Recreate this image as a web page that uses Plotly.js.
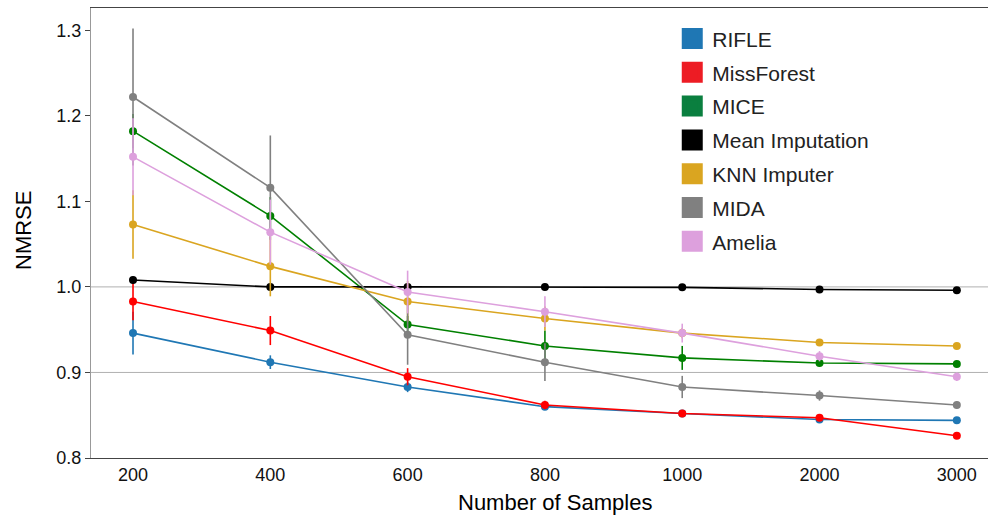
<!DOCTYPE html>
<html>
<head>
<meta charset="utf-8">
<script src="https://cdn.plot.ly/plotly-3.0.1.min.js"></script>
<style>html,body{margin:0;padding:0;background:#fff;}#chart{width:989px;height:519px;}</style>
</head>
<body>
<div id="chart"></div>
<script>
// Categories (equally spaced sample sizes)
const samples = ['200', '400', '600', '800', '1000', '2000', '3000'];

// Series values (NMRSE) and error-bar half-widths
const rifle        = [0.946, 0.912, 0.883, 0.860, 0.852, 0.845, 0.844];
const rifleErr     = [0.025, 0.008, 0.006, 0.004, 0.003, 0.003, 0.002];
const missForest   = [0.983, 0.949, 0.895, 0.862, 0.852, 0.847, 0.826];
const missForestErr= [0.022, 0.017, 0.010, 0.005, 0.003, 0.003, 0.002];
const mice         = [1.182, 1.083, 0.956, 0.931, 0.917, 0.911, 0.910];
const miceErr      = [0.020, 0.022, 0.010, 0.018, 0.014, 0.004, 0.003];
const meanImp      = [1.008, 1.000, 1.000, 1.000, 0.9995, 0.997, 0.996];
const meanImpErr   = [0.004, 0.002, 0.002, 0.002, 0.002, 0.002, 0.002];
const knn          = [1.073, 1.024, 0.983, 0.963, 0.946, 0.935, 0.931];
const knnErr       = [0.040, 0.035, 0.024, 0.014, 0.006, 0.004, 0.003];
const mida         = [1.222, 1.116, 0.944, 0.912, 0.883, 0.873, 0.862];
const midaErr      = [0.080, 0.061, 0.035, 0.022, 0.013, 0.006, 0.004];
const amelia       = [1.152, 1.064, 0.994, 0.971, 0.946, 0.919, 0.895];
const ameliaErr    = [0.045, 0.038, 0.025, 0.018, 0.011, 0.006, 0.005];

const names  = ['RIFLE', 'MissForest', 'MICE', 'Mean Imputation', 'KNN Imputer', 'MIDA', 'Amelia'];
const values = [rifle, missForest, mice, meanImp, knn, mida, amelia];
const errors = [rifleErr, missForestErr, miceErr, meanImpErr, knnErr, midaErr, ameliaErr];
const lineColors   = ['#1f77b4', '#ff0000', '#008000', '#000000', '#daa520', '#808080', '#dda0dd'];
const legendColors = ['#1f77b4', '#ed1c24', '#0a7f3f', '#000000', '#daa520', '#808080', '#dda0dd'];

// axis texts and y tick labels
const xTitle = 'Number of Samples';
const yTitle = 'NMRSE';
const yTicks = [0.8, 0.9, 1.0, 1.1, 1.2, 1.3];
// partial grid as in the original figure
const vGrid = [{cat: '400', color: '#8c8c8c'}, {cat: '600', color: '#b0b0b0'}, {cat: '2000', color: '#b0b0b0'}, {cat: '3000', color: '#b0b0b0'}];
const hGrid = [0.9, 1.0];

const FONT = 'Liberation Sans, Arial, sans-serif';

const traces = [];
names.forEach((n, i) => {
  traces.push({
    type: 'scatter', mode: 'lines+markers', x: samples, y: values[i], name: n,
    legendgroup: n, showlegend: false,
    line: {color: lineColors[i], width: 1.6},
    marker: {color: lineColors[i], size: 8},
    error_y: {type: 'data', array: errors[i], visible: true, color: lineColors[i], thickness: 1.6, width: 0}
  });
});
names.forEach((n, i) => {
  traces.push({
    type: 'scatter', mode: 'markers', x: [null], y: [null], name: n,
    legendgroup: n, showlegend: true,
    marker: {symbol: 'square', color: legendColors[i], size: 16, line: {color: legendColors[i], width: 5}}
  });
});

const shapes = [];
vGrid.forEach(g => shapes.push({type: 'line', xref: 'x', yref: 'paper', x0: g.cat, x1: g.cat, y0: 0, y1: 1, layer: 'below', line: {color: g.color, width: 1}}));
hGrid.forEach(v => shapes.push({type: 'line', xref: 'paper', yref: 'y', x0: 0, x1: 1, y0: v, y1: v, layer: 'below', line: {color: '#b0b0b0', width: 1}}));

const layout = {
  width: 989, height: 519,
  margin: {l: 91, r: 1, t: 8, b: 61},
  paper_bgcolor: '#ffffff', plot_bgcolor: '#ffffff',
  font: {family: FONT, color: '#000'},
  showlegend: true,
  legend: {
    x: 0.648, y: 0.977, xanchor: 'left', yanchor: 'top',
    font: {family: FONT, size: 21, color: '#222'},
    bgcolor: 'rgba(0,0,0,0)', borderwidth: 0, tracegroupgap: 3.5, traceorder: 'grouped'
  },
  xaxis: {
    type: 'category', categoryorder: 'array', categoryarray: samples,
    range: [-0.306, 6.227], showgrid: false, zeroline: false,
    showline: true, linecolor: '#444', linewidth: 1.2, mirror: true,
    ticks: '', tickfont: {size: 18, family: FONT, color: '#111'}
  },
  yaxis: {
    range: [0.8, 1.326], tickvals: yTicks, ticktext: yTicks.map(v => v.toFixed(1)),
    showgrid: false, zeroline: false, showline: true, linecolor: '#999', linewidth: 1.2,
    ticks: 'outside', ticklen: 5, tickcolor: '#444', tickfont: {size: 18, family: FONT, color: '#111'}
  },
  annotations: [
    {text: xTitle, xref: 'paper', yref: 'paper', x: 0.5173, y: -0.098, xanchor: 'center', yanchor: 'middle', showarrow: false, font: {size: 22, family: FONT, color: '#000'}},
    {text: yTitle, xref: 'paper', yref: 'paper', x: -0.0747, y: 0.5067, xanchor: 'center', yanchor: 'middle', textangle: -90, showarrow: false, font: {size: 22, family: FONT, color: '#000'}}
  ],
  shapes: shapes
};

Plotly.newPlot('chart', traces, layout, {displayModeBar: false, staticPlot: true});
</script>
</body>
</html>
